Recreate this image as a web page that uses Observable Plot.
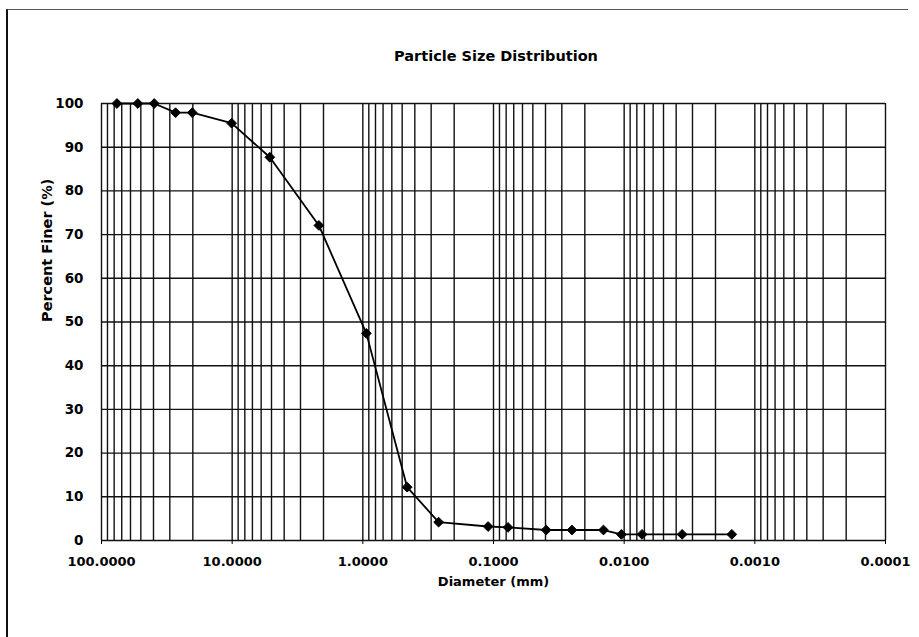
<!DOCTYPE html>
<html>
<head>
<meta charset="utf-8">
<script src="https://cdn.jsdelivr.net/npm/d3@7"></script>
<script src="https://cdn.jsdelivr.net/npm/@observablehq/plot@0.6"></script>
<style>
  html, body { margin: 0; padding: 0; background: #fff; }
  #wrap { position: relative; width: 919px; height: 637px; overflow: hidden; background: #fff; }
  #frame { position: absolute; left: 6px; top: 9px; width: 900px; height: 640px;
           border-left: 2px solid #111; border-top: 1px solid #555; }
  #title { position: absolute; left: 101px; width: 790px; top: 48px; text-align: center;
           font-family: "DejaVu Sans", sans-serif; font-weight: bold; font-size: 14.5px; color: #000; }
  #chart { position: absolute; left: 0; top: 90px; }
</style>
</head>
<body>
<div id="wrap">
  <div id="frame"></div>
  <div id="title">Particle Size Distribution</div>
  <div id="chart"></div>
</div>
<script>
// Diameter (mm) and percent finer (%)
const diameters = [76.2, 52.7, 39.5, 27.1, 20.2, 10.1, 5.15, 2.17, 0.94, 0.458, 0.263, 0.11, 0.0775, 0.0395, 0.0251, 0.0144, 0.0105, 0.0073, 0.0036, 0.0015];
const percentFiner = [100, 100, 100, 97.9, 97.9, 95.5, 87.7, 72.1, 47.4, 12.2, 4.2, 3.2, 3.0, 2.4, 2.4, 2.4, 1.4, 1.4, 1.4, 1.4];

// Axis ticks
const xMajorTicks = [100, 10, 1, 0.1, 0.01, 0.001, 0.0001];
const xTickLabels = ["100.0000", "10.0000", "1.0000", "0.1000", "0.0100", "0.0010", "0.0001"];
const yTicks = [0, 10, 20, 30, 40, 50, 60, 70, 80, 90, 100];
const decades = [0.0001, 0.001, 0.01, 0.1, 1, 10];
const multipliers = [1, 2, 3, 4, 5, 6, 7, 8, 9];

const xGrid = [];
for (const d of decades) for (const m of multipliers) xGrid.push(+(m * d).toPrecision(6));
xGrid.push(100);

const data = diameters.map((d, i) => ({d, p: percentFiner[i]}));
const labelOf = new Map(xMajorTicks.map((t, i) => [t, xTickLabels[i]]));

const chart = Plot.plot({
  width: 919,
  height: 547,
  marginLeft: 101,
  marginRight: 34,
  marginTop: 13,
  marginBottom: 97,
  style: {fontFamily: "DejaVu Sans, sans-serif", fontWeight: "bold", fontSize: "13px", color: "#000", background: "transparent"},
  x: {type: "log", domain: [100, 0.0001]},
  y: {domain: [0, 100]},
  marks: [
    Plot.ruleX(xGrid, {stroke: "#111", strokeWidth: 1.4}),
    Plot.ruleY(yTicks, {stroke: "#111", strokeWidth: 1.4}),
    Plot.line(data, {x: "d", y: "p", stroke: "#000", strokeWidth: 1.8}),
    Plot.dot(data, {x: "d", y: "p", symbol: "diamond2", r: 4.4, fill: "#000", stroke: "#000", strokeWidth: 1}),
    Plot.axisX(xMajorTicks, {tickFormat: t => labelOf.get(t), tickSize: 4, tickPadding: 12, label: null, fontSize: 13}),
    Plot.axisY(yTicks, {tickSize: 0, tickPadding: 18, label: null, fontSize: 13.5}),
    Plot.text(["Diameter (mm)"], {frameAnchor: "bottom", dy: 45, fontSize: 13, fontWeight: "bold"}),
    Plot.text(["Percent Finer (%)"], {frameAnchor: "left", dx: -54, rotate: -90, fontSize: 14.5, fontWeight: "bold"})
  ]
});
document.getElementById("chart").appendChild(chart);
</script>
</body>
</html>
